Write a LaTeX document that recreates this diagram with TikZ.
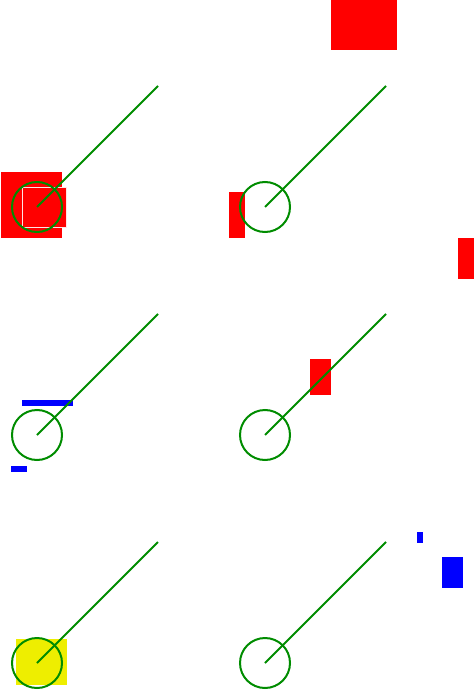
\documentclass[tikz,border=0pt]{standalone}
\begin{document}
\begin{tikzpicture}[x=1pt,y=-1pt,
  ring/.style={circle,draw=grn,line width=2pt,minimum size=50pt,inner sep=0pt},
  stick/.style={draw=grn,line width=2pt},
  redbox/.style={fill=red},
  bluebox/.style={fill=blue}]
\definecolor{grn}{RGB}{0,140,0}
\definecolor{ylw}{RGB}{238,238,0}
\useasboundingbox (0,0) rectangle (474,700);
% panel 1
\fill[redbox] (331,0) rectangle (397,50);
\fill[redbox] (1,172) rectangle (62,238);
\draw[redbox,draw=white!90!red,line width=1pt] (22,187.5) rectangle (66,227.5);
% panel 2
\fill[redbox] (229,192) rectangle (245,238);
\fill[redbox] (458,238) rectangle (474,279);
% panel 3
\fill[bluebox] (22,400) rectangle (73,406);
\fill[bluebox] (11,466) rectangle (27,472);
% panel 4
\fill[redbox] (310,359) rectangle (331,395);
% panel 5
\fill[ylw] (16,639) rectangle (67,685);
% panel 6
\fill[bluebox] (417,532) rectangle (423,543);
\fill[bluebox] (442,557) rectangle (463,588);
% circles and sticks
\node[ring] (c1) at (37,207) {};
\node[ring] (c2) at (265,207) {};
\node[ring] (c3) at (37,435) {};
\node[ring] (c4) at (265,435) {};
\node[ring] (c5) at (37,663) {};
\node[ring] (c6) at (265,663) {};
\coordinate (e1) at (158,86);
\coordinate (e2) at (386,86);
\coordinate (e3) at (158,314);
\coordinate (e4) at (386,314);
\coordinate (e5) at (158,542);
\coordinate (e6) at (386,542);
\foreach \i in {1,...,6} \draw[stick] (c\i.center) -- (e\i);
\end{tikzpicture}
\end{document}
